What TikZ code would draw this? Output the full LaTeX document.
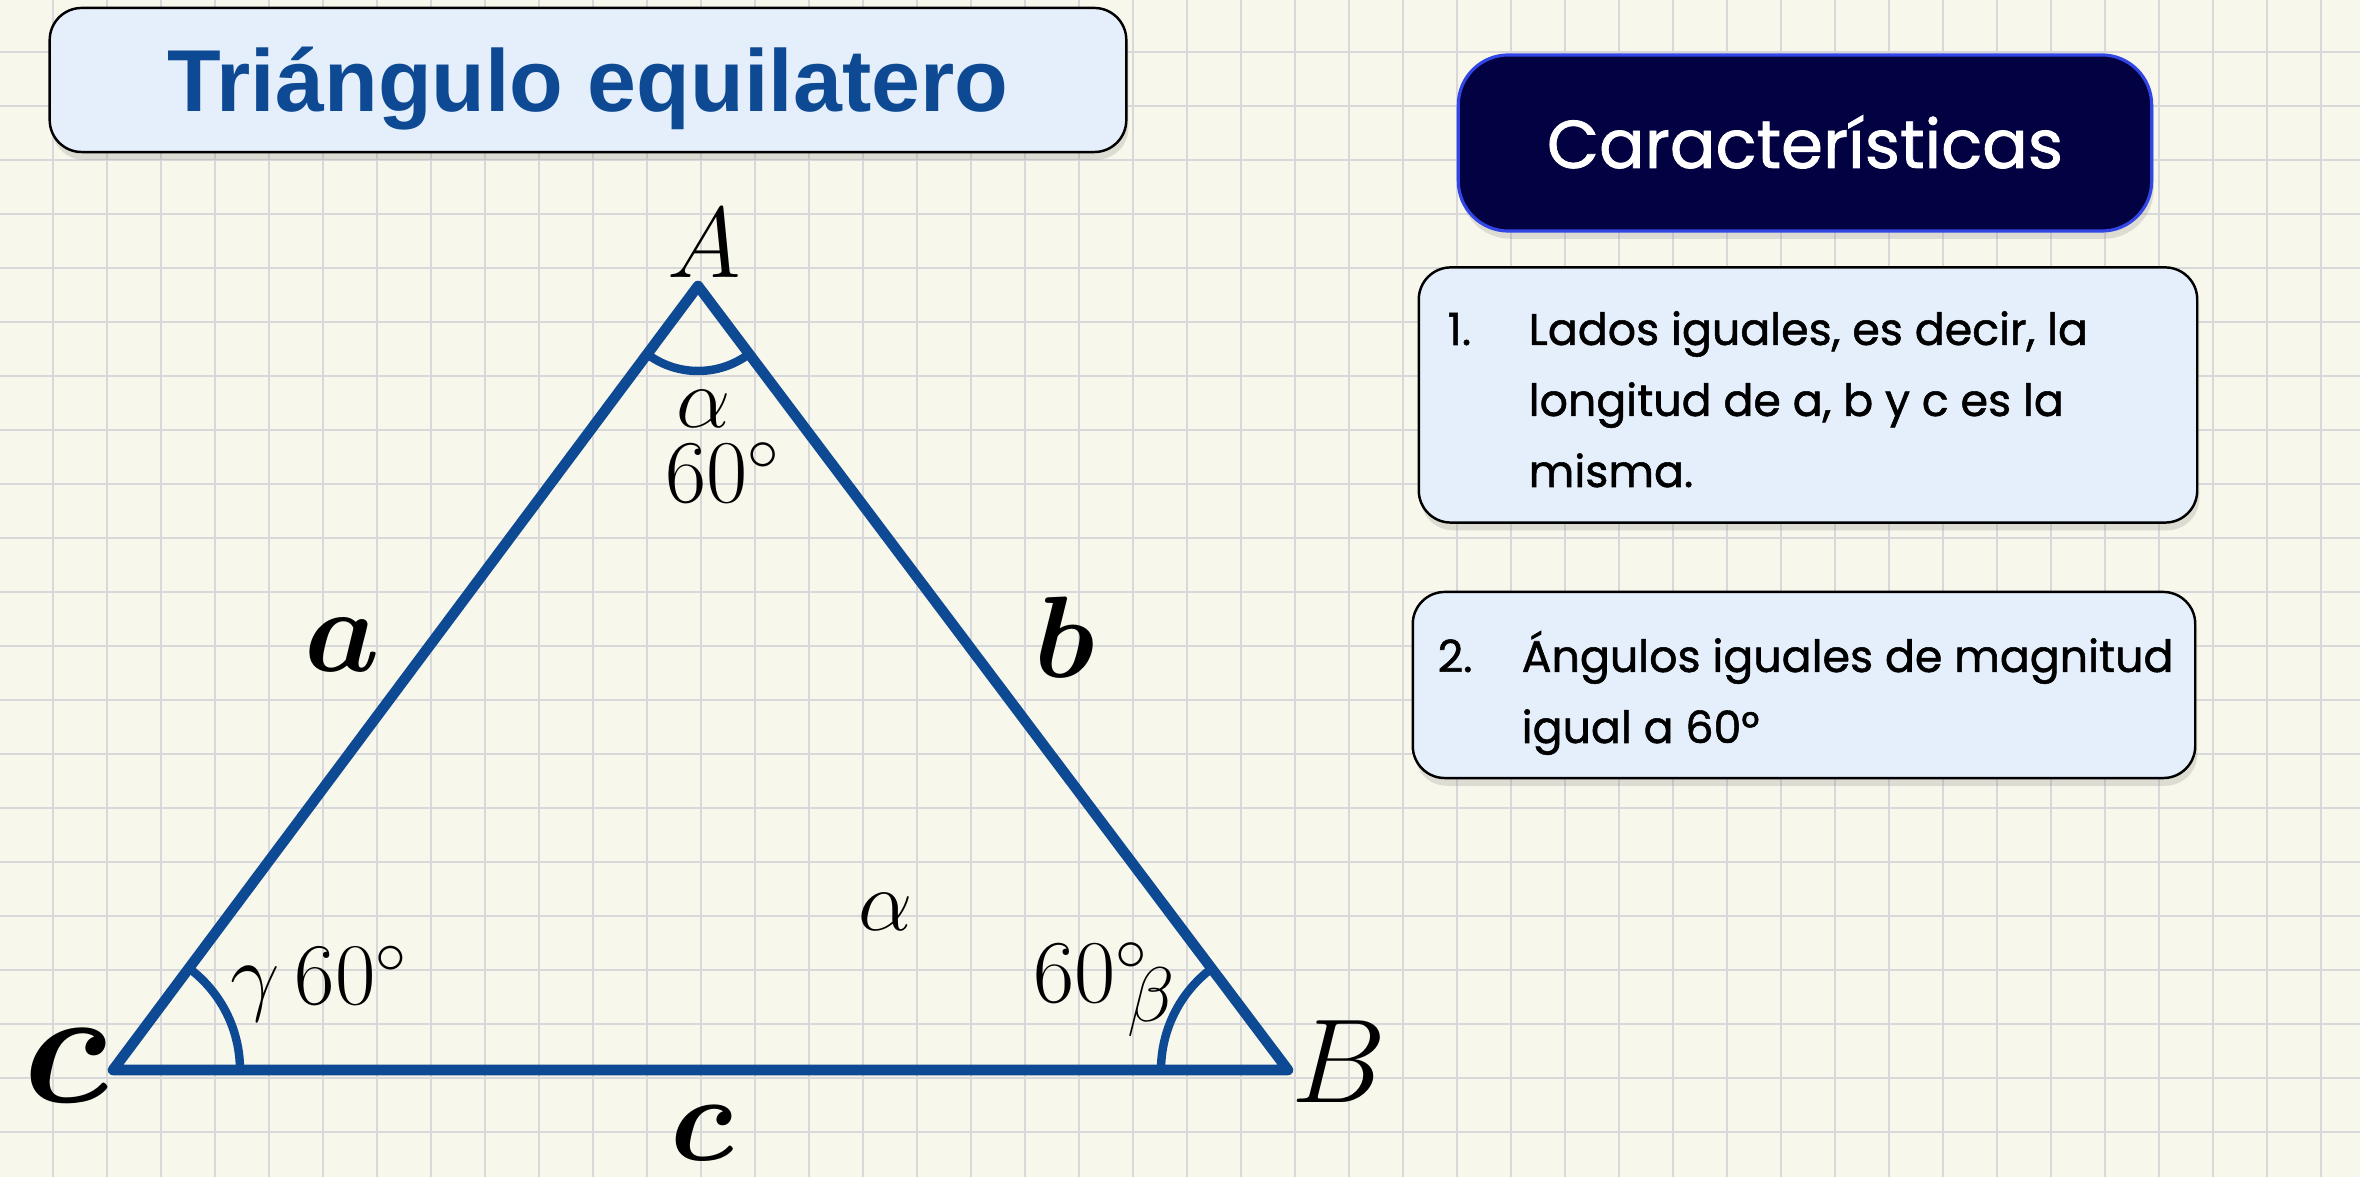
\RequirePackage{fix-cm}
\documentclass[tikz,border=0pt]{standalone}
\usepackage{mathtools}
\usepackage{fontspec}
\newfontfamily\titlefont{Liberation Sans}
\newfontfamily\notefont{Poppins}[FakeBold=1.2]
\usetikzlibrary{shadows}
\definecolor{paper}{RGB}{248,247,235}
\definecolor{gridgray}{RGB}{216,216,218}
\definecolor{triblue}{RGB}{14,74,148}
\definecolor{boxblue}{RGB}{229,239,251}
\definecolor{navy}{RGB}{2,2,66}
\definecolor{rimblue}{RGB}{50,70,230}
\newcommand{\lado}[1]{\boldsymbol{#1}}
\newcommand{\fsz}[1]{\fontsize{#1}{1.2\dimexpr#1pt\relax}\selectfont}

\begin{document}
\begin{tikzpicture}[x=0.01cm,y=-0.01cm,
	gridline/.style={gridgray,line width=0.6pt},
	sheet/.style={draw=black,line width=0.7pt,fill=boxblue,rounded corners=0.32cm,
		drop shadow={shadow xshift=0.6pt,shadow yshift=-2.2pt,opacity=0.22}},
	notetext/.style={font=\notefont\fontsize{12.6}{20.2}\selectfont,inner sep=0pt,align=left},
	lbl/.style={inner sep=0pt,anchor=base}]
	% papel cuadriculado
	\fill[paper] (0,0) rectangle (2360,1177);
	\useasboundingbox (0,0) rectangle (2360,1177);
	\foreach \gx in {53,107,...,2321}
		\draw[gridline] (\gx,0) -- (\gx,1177);
	\foreach \gy in {52,106,...,1132}
		\draw[gridline] (0,\gy) -- (2360,\gy);
	% titulo
	\node[sheet,minimum width=10.76cm,minimum height=1.44cm,text=triblue,
		font=\titlefont\bfseries\fsz{25},text height=0.63cm,text depth=0pt]
		(titulo) at (588,80) {Triángulo equilatero};
	% caracteristicas
	\node[draw=rimblue,line width=0.9pt,fill=navy,rounded corners=0.5cm,
		minimum width=6.93cm,minimum height=1.76cm,text=white,
		font=\notefont\fsz{19.2},text height=0.5cm,text depth=0pt,
		drop shadow={shadow xshift=0.6pt,shadow yshift=-2.2pt,opacity=0.22}]
		(carac) at (1805,143) {Características};
	% la base de un nodo de varias lineas es la ultima linea
	\node[sheet,minimum width=7.78cm,minimum height=2.55cm] (prop1) at (1808,395) {};
	\node[notetext,anchor=base west] (num1) at (1447,345) {1.};
	\node[notetext,anchor=base west] (texto1) at (1528,487)
		{Lados iguales, es decir, la\\longitud de a, b y c es la\\misma.};
	\node[sheet,minimum width=7.82cm,minimum height=1.86cm] (prop2) at (1804,685) {};
	\node[notetext,anchor=base west] (num2) at (1437,672) {2.};
	\node[notetext,anchor=base west] (texto2) at (1521,743)
		{Ángulos iguales de magnitud\\igual a 60°};
	% triangulo
	\coordinate (A) at (698,286);
	\coordinate (B) at (1288,1070);
	\coordinate (C) at (113,1070);
	\draw[triblue,line width=3pt,line join=round] (A) -- (B) -- (C) -- cycle;
	\draw[triblue,line width=2.4pt] (A) ++(53:85) arc[start angle=53,end angle=126.7,radius=85];
	\draw[triblue,line width=2.4pt] (C) ++(-53.3:127) arc[start angle=-53.3,end angle=0,radius=127];
	\draw[triblue,line width=2.4pt] (B) ++(180:127) arc[start angle=180,end angle=233,radius=127];
	% vertices y lados
	\node[lbl,font=\fsz{28.5}] (etiqA) at (704,278) {$A$};
	\node[lbl,font=\fsz{34}] (etiqB) at (1339,1103) {$B$};
	\node[lbl,font=\fsz{47}] (etiqC) at (66,1103) {$\lado{c}$};
	\node[lbl,font=\fsz{34}] (ladoa) at (342,672) {$\lado{a}$};
	\node[lbl,font=\fsz{33}] (ladob) at (1065,678) {$\lado{b}$};
	\node[lbl,font=\fsz{35}] (ladoc) at (702,1161) {$\lado{c}$};
	% angulos
	\node[lbl,font=\fsz{24.5}] (alfa) at (704,428) {$\alpha$};
	\node[lbl,font=\fsz{25.5}] (gradA) at (723,503) {$60^{\circ}$};
	\node[lbl,font=\fsz{24.5}] (alfamedio) at (886,931) {$\alpha$};
	\node[lbl,anchor=base west,font=\fsz{25}] (gradC) at (230,1005) {$\gamma\,60^{\circ}$};
	\node[lbl,anchor=base west,font=\fsz{25.5}] (gradB) at (1033,1003) {$60^{\circ}$};
	\node[lbl,anchor=base west,font=\fsz{22}] (beta) at (1127,1022) {$\beta$};
\end{tikzpicture}
\end{document}
